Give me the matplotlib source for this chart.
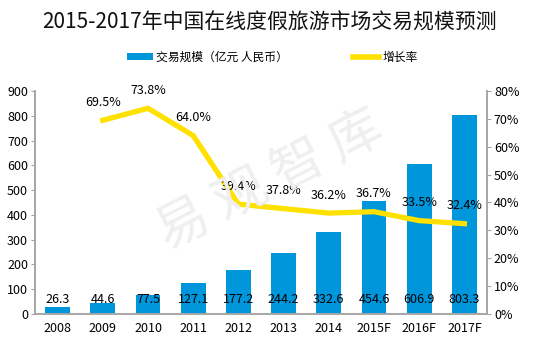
import numpy as np
import matplotlib
matplotlib.use("Agg")
import matplotlib.pyplot as plt
from matplotlib.patches import Patch
from matplotlib.lines import Line2D

plt.rcParams["font.family"] = ["Noto Sans CJK SC", "DejaVu Sans"]

years = ["2008", "2009", "2010", "2011", "2012", "2013", "2014", "2015F", "2016F", "2017F"]
volume = [26.3, 44.6, 77.5, 127.1, 177.2, 244.2, 332.6, 454.6, 606.9, 803.3]
growth = [None, 69.5, 73.8, 64.0, 39.4, 37.8, 36.2, 36.7, 33.5, 32.4]

blue = "#0096DB"
yellow = "#FFE100"
gray = "#A6A6A6"

fig = plt.figure(figsize=(5.39, 3.46), dpi=100)
ax = fig.add_axes([0.065, 0.0925, 0.8385, 0.6445])
ax2 = ax.twinx()

x = np.arange(len(years))
ax.bar(x, volume, width=0.55, color=blue, zorder=2)
for xi, v in zip(x, volume):
    ax.text(xi, 60, f"{v:.1f}", ha="center", va="center", fontsize=9, color="black", zorder=5)

gx = [xi for xi, g in zip(x, growth) if g is not None]
gy = [g / 100 for g in growth if g is not None]
ax2.plot(gx, gy, color=yellow, lw=3.8, zorder=2)
for xi, g in zip(gx, gy):
    ax2.annotate(f"{g*100:.1f}%", (xi, g), xytext=(0, 13), textcoords="offset points",
                 ha="center", va="center", fontsize=9, color="black", zorder=6)

ax.set_xlim(-0.5, len(years) - 0.5)
ax.set_ylim(0, 900)
ax.set_yticks(range(0, 901, 100))
ax2.set_ylim(0, 0.8)
ax2.set_yticks(np.arange(0, 0.81, 0.1))
ax2.set_yticklabels([f"{int(round(t*100))}%" for t in np.arange(0, 0.81, 0.1)])
ax.set_xticks(x)
ax.set_xticklabels(years)

for a in (ax, ax2):
    a.spines["top"].set_visible(False)
    for s in ("left", "right", "bottom"):
        a.spines[s].set_color(gray)
        a.spines[s].set_linewidth(1.2)
    a.tick_params(axis="y", colors=gray, labelcolor="black", labelsize=9, length=3, pad=2)
ax.tick_params(axis="x", length=0, labelsize=9, pad=6)

fig.text(0.5, 0.935, "2015-2017年中国在线度假旅游市场交易规模预测", ha="center", va="center",
         fontsize=15, fontweight="medium", color="#111111")

# watermark
fig.text(0.5, 0.48, "易 观 智 库", ha="center", va="center", fontsize=38, color="#EFEFEF",
         rotation=27, zorder=0)

handles = [Patch(facecolor=blue, edgecolor="none"), Line2D([0], [0], color=yellow, lw=4)]
fig.legend(handles, ["交易规模（亿元 人民币）", "增长率"], loc="center", bbox_to_anchor=(0.505, 0.835),
           ncol=2, frameon=False, fontsize=8.5, columnspacing=5.5, handlelength=2.2, handleheight=0.5,
           handletextpad=0.3)

fig.savefig("out.png", dpi=100)
